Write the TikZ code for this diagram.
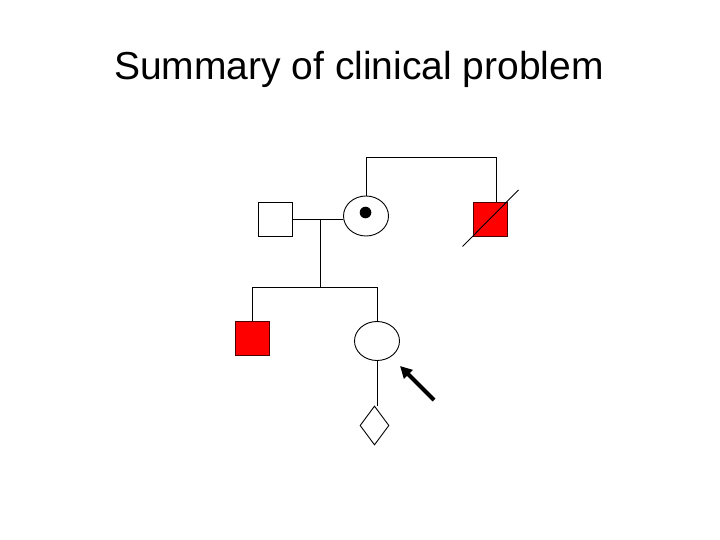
\documentclass[tikz,border=0pt]{standalone}
\usepackage{fontspec}
\setmainfont{Liberation Sans}
\usetikzlibrary{shapes.geometric,arrows.meta}
\definecolor{pedred}{RGB}{255,0,0}
\tikzset{
  sq/.style={draw=black, line width=0.9pt, minimum size=34pt, inner sep=0pt, shape=rectangle},
  affected/.style={sq, fill=pedred, draw=black!70!pedred},
  circ/.style={draw=black, line width=0.9pt, shape=ellipse, minimum width=45pt, minimum height=40pt, inner sep=0pt},
  dia/.style={draw=black, line width=0.9pt, shape=diamond, minimum width=29pt, minimum height=39pt, inner sep=0pt, aspect=0.74},
  ln/.style={draw=black, line width=0.9pt},
}
\begin{document}
\begin{tikzpicture}[x=1pt,y=-1pt]
\useasboundingbox (0,0) rectangle (720,540);
\node[font=\fontsize{39}{44}\selectfont, anchor=base, inner sep=0pt] (title) at (359,79.5) {Summary of clinical problem};
\node[sq] (father) at (275,219) {};
\node[circ] (mother) at (366,216) {};
\fill (365.5,212.5) circle (5.8pt);
\node[affected] (uncle) at (490.5,219.5) {};
\node[affected] (brother) at (252.5,338.5) {};
\node[circ, minimum height=39pt] (proband) at (377,341) {};
\node[dia] (preg) at (374.5,425.5) {};
\coordinate (mid) at (320.5,219);
\coordinate (sibl) at (252.5,287);
\coordinate (sibr) at (377,287);
\coordinate (sibm) at (320.5,287);
\coordinate (topl) at (366,157);
\coordinate (topr) at (496.5,157);
\coordinate (s1) at (462.5,246.5);
\coordinate (s2) at (518.5,190);
\coordinate (at) at (434,400);
\coordinate (ah) at (400,366);
\draw[ln] (father.east) -- (mother.west |- father.east);
\draw[ln] (mid) -- (sibm);
\draw[ln] (sibl) -- (sibr);
\draw[ln] (sibl) -- (brother.north);
\draw[ln] (sibr) -- (proband.north);
\draw[ln] (mother.north) -- (topl) -- (topr) -- (496.5,202);
\draw[ln] (s1) -- (s2);
\draw[ln] (proband.south) -- (377,406);
\draw[line width=4pt, -{Triangle[length=12pt,width=12pt]}] (at) -- (ah);
\end{tikzpicture}
\end{document}
